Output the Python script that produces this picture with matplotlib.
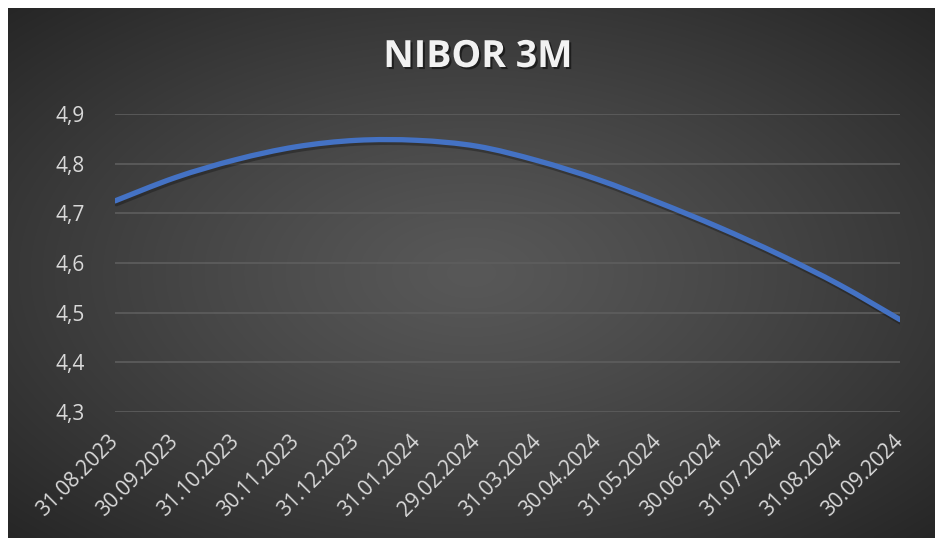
import numpy as np
import matplotlib
matplotlib.use('Agg')
import matplotlib.pyplot as plt
import matplotlib.patheffects as pe
from matplotlib.path import Path
from matplotlib.patches import PathPatch

dates = ['31.08.2023', '30.09.2023', '31.10.2023', '30.11.2023', '31.12.2023',
         '31.01.2024', '29.02.2024', '31.03.2024', '30.04.2024', '31.05.2024',
         '30.06.2024', '31.07.2024', '31.08.2024', '30.09.2024']
nibor = [4.725, 4.772, 4.808, 4.834, 4.847, 4.847, 4.835, 4.806, 4.768,
         4.722, 4.672, 4.617, 4.556, 4.486]
yticks = [4.3, 4.4, 4.5, 4.6, 4.7, 4.8, 4.9]
ylabels = ['4,3', '4,4', '4,5', '4,6', '4,7', '4,8', '4,9']

W, H = 935, 538
fig = plt.figure(figsize=(W/100, H/100), dpi=100)
fig.patch.set_facecolor('white')

# radial gradient background (chart area)
bg = fig.add_axes([8/W, 0, (W-8)/W, (H-8)/H], zorder=-5)
gx, gy = np.meshgrid(np.linspace(-1, 1, 400), np.linspace(-1, 1, 240))
r = np.clip(np.sqrt(gx**2 + gy**2) / np.sqrt(2), 0, 1)
g = 0.345 - (0.345 - 0.15) * r**1.2
bg.imshow(np.dstack([g, g, g]), aspect='auto', interpolation='bicubic')
bg.axis('off')

ax = fig.add_axes([115/W, 1-412/H, (900-115)/W, (412-114)/H])
ax.set_facecolor('none')
x = np.arange(len(nibor))
ax.set_xlim(0, len(nibor)-1)
ax.set_ylim(4.3, 4.9)

# smoothed line (bezier through the points, like Excel)
pts = np.column_stack([x, nibor])
ext = np.vstack([pts[0], pts, pts[-1]])
verts = [pts[0]]
codes = [Path.MOVETO]
for i in range(len(pts)-1):
    p0, p1, p2, p3 = ext[i], ext[i+1], ext[i+2], ext[i+3]
    verts += [p1 + (p2-p0)/6, p2 - (p3-p1)/6, p2]
    codes += [Path.CURVE4]*3
patch = PathPatch(Path(verts, codes), facecolor='none', edgecolor='#4472C4',
                  lw=3.8, capstyle='round', zorder=3)
patch.set_path_effects([pe.SimpleLineShadow(offset=(1, -2), shadow_color='black', alpha=0.28),
                        pe.Normal()])
ax.add_patch(patch)

ax.set_yticks(yticks)
ax.set_yticklabels(ylabels)
ax.set_xticks(x)
ax.set_xticklabels(dates, rotation=45, ha='right', va='center', rotation_mode='anchor')
ax.tick_params(axis='both', length=0, colors='#d9d9d9')
ax.tick_params(axis='y', pad=22, labelsize=15)
ax.tick_params(axis='x', pad=19, labelsize=15)
for lab in ax.get_xticklabels() + ax.get_yticklabels():
    lab.set_family(['Open Sans', 'DejaVu Sans'])
ax.grid(axis='y', color='#5e5e5e', lw=1.2)
ax.set_axisbelow(True)
for s in ax.spines.values():
    s.set_visible(False)

fig.text(478/W, 1-57/H, 'NIBOR 3M', ha='center', va='center', fontsize=27,
         fontweight='bold', color='#f2f2f2', family=['Open Sans', 'DejaVu Sans'],
         path_effects=[pe.withSimplePatchShadow(offset=(1.5, -1.5), shadow_rgbFace='black', alpha=0.5)])

fig.savefig('out.png', dpi=100, facecolor=fig.get_facecolor())
